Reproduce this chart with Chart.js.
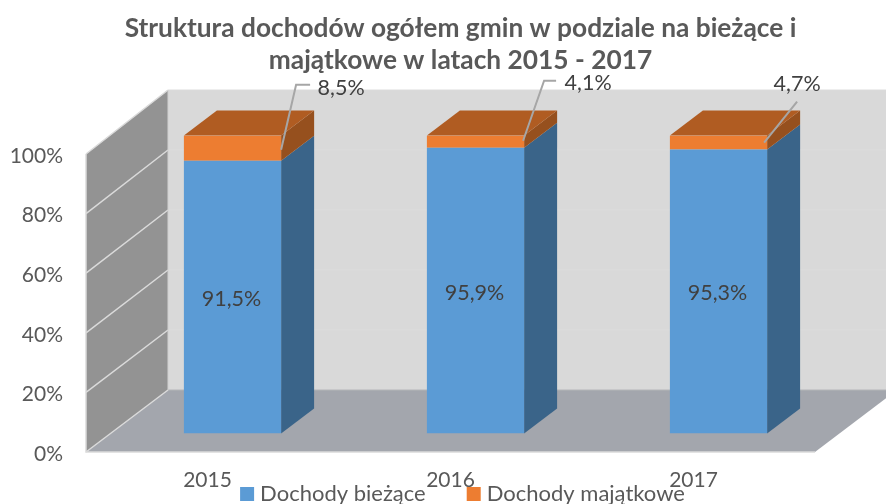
<!DOCTYPE html>
<html lang="pl"><head><meta charset="utf-8">
<style>html,body{margin:0;padding:0;background:#fff}canvas{display:block}</style>
<script src="https://cdn.jsdelivr.net/npm/chart.js@4"></script>
</head><body><canvas id="c" width="886" height="504"></canvas>
<script>
const categories = ['2015', '2016', '2017'];
const biezace = [91.5, 95.9, 95.3];
const majatkowe = [8.5, 4.1, 4.7];
const seriesNames = ['Dochody bieżące', 'Dochody majątkowe'];
const titleLines = ['Struktura dochodów ogółem gmin w podziale na bieżące i', 'majątkowe w latach 2015 - 2017'];
const yTicks = [0, 20, 40, 60, 80, 100];

// presentation only
const wallDX = 82, wallTop = 90, wallBottom = 390;
const sceneLift = -2;
const barShift = {x: 25, y: -20.5};
const barDepth = {x: 33, y: -25};
const leaders = [
  {pts: [[0,-11],[15,-76],[29,-76]], label: [60,-73]},
  {pts: [[-1,-7],[20,-67],[32,-67]], label: [64,-65]},
  {pts: [[-3,-7],[30,-48]], label: [30,-65]}
];
const pct = v => String(v).replace('.', ',') + '%';

function poly(ctx, pts, fill) {
  ctx.beginPath();
  pts.forEach((p, i) => i ? ctx.lineTo(p[0], p[1]) : ctx.moveTo(p[0], p[1]));
  ctx.closePath(); ctx.fillStyle = fill; ctx.fill();
}
function seg(ctx, pts, color, w) {
  ctx.beginPath();
  pts.forEach((p, i) => i ? ctx.lineTo(p[0], p[1]) : ctx.moveTo(p[0], p[1]));
  ctx.strokeStyle = color; ctx.lineWidth = w; ctx.stroke();
}

const scene = {
  id: 'scene',
  afterLayout(chart) {
    chart.titleBlock.left += 53; chart.titleBlock.right += 53;
    const lg = chart.legend;
    lg.left += 57.5; lg.right += 57.5;
    lg.top = 483 - lg.options.labels.padding;
    chart.scales.x.bottom = 504;
  },
  beforeDatasetsDraw(chart) {
    const {ctx, chartArea: ca, scales: {y}} = chart;
    const a = {left: ca.left, right: ca.right, top: ca.top + sceneLift, bottom: ca.bottom + sceneLift};
    const py = t => y.getPixelForValue(t) + sceneLift;
    const backY = p => wallBottom - (a.bottom - p) * (wallBottom - wallTop) / (a.bottom - a.top);
    const bx = a.left + wallDX;
    ctx.save();
    ctx.fillStyle = '#d9d9d9';
    ctx.fillRect(bx, wallTop, 886 - bx, wallBottom - wallTop);
    yTicks.slice(1).forEach(t => seg(ctx, [[bx, backY(py(t))], [886, backY(py(t))]], '#dcdcdc', 1));
    poly(ctx, [[a.left, a.top], [bx, wallTop], [bx, wallBottom], [a.left, a.bottom]], '#939393');
    poly(ctx, [[a.left, a.bottom], [bx, wallBottom], [a.right + wallDX, wallBottom], [a.right, a.bottom]], '#a3a6ad');
    seg(ctx, [[bx, wallBottom], [886, wallBottom]], '#b4b5b8', 1);
    yTicks.forEach(t => {
      const p = py(t);
      seg(ctx, [[a.left, p], [bx, backY(p)]], '#dadada', 1.5);
    });
    seg(ctx, [[a.left, a.top], [a.left, a.bottom], [a.right, a.bottom]], '#dadada', 1.5);
    seg(ctx, [[bx, wallTop], [bx, wallBottom]], '#d0d0d0', 1);
    // extruded faces, taken from the library's bar elements
    ctx.translate(barShift.x, barShift.y);
    const m0 = chart.getDatasetMeta(0).data, m1 = chart.getDatasetMeta(1).data;
    const dx = barDepth.x, dy = barDepth.y;
    m0.forEach((b, i) => {
      const o = m1[i], r = b.x + b.width / 2, l = b.x - b.width / 2;
      poly(ctx, [[r, b.base], [r + dx, b.base + dy], [r + dx, b.y + dy], [r, b.y]], '#3a6489');
      poly(ctx, [[r, b.y], [r + dx, b.y + dy], [r + dx, o.y + dy], [r, o.y]], '#96501e');
      poly(ctx, [[l, o.y], [l + dx, o.y + dy], [r + dx, o.y + dy], [r, o.y]], '#b05c22');
    });
    ctx.restore();
    ctx.save();
    ctx.translate(barShift.x, barShift.y);
  },
  afterDatasetsDraw(chart) {
    const {ctx} = chart;
    ctx.restore();
    ctx.save();
    ctx.translate(barShift.x, barShift.y);
    ctx.font = '21.5px Lato';
    ctx.fillStyle = '#404040';
    ctx.textAlign = 'center';
    ctx.textBaseline = 'middle';
    chart.getDatasetMeta(0).data.forEach((b, i) => {
      ctx.fillText(pct(biezace[i]), b.x - 1, (b.y + b.base) / 2 + 2);
    });
    chart.getDatasetMeta(1).data.forEach((b, i) => {
      const r = b.x + b.width / 2, L = leaders[i];
      seg(ctx, L.pts.map(p => [r + p[0], b.base + p[1]]), '#a6a6a6', 2);
      ctx.fillStyle = '#404040';
      ctx.fillText(pct(majatkowe[i]), r + L.label[0], b.base + L.label[1]);
    });
    ctx.restore();
  }
};

new Chart(document.getElementById('c'), {
  type: 'bar',
  data: {
    labels: categories,
    datasets: [
      {label: seriesNames[0], data: biezace, backgroundColor: '#5b9bd5', stack: 's'},
      {label: seriesNames[1], data: majatkowe, backgroundColor: '#ed7d31', stack: 's'}
    ]
  },
  options: {
    responsive: false,
    animation: false,
    layout: {autoPadding: false, padding: {left: 0, right: 71, top: 0, bottom: 0}},
    font: {family: 'Lato'},
    datasets: {bar: {categoryPercentage: 1, barPercentage: 0.4}},
    scales: {
      x: {
        stacked: true,
        grid: {display: false, drawTicks: false},
        border: {display: false},
        ticks: {color: '#595959', font: {family: 'Lato', size: 21}, padding: 14, maxRotation: 0},
        afterFit(s) { s.height = 20; }
      },
      y: {
        stacked: true, min: 0, max: 100,
        grid: {display: false, drawTicks: false},
        border: {display: false},
        afterBuildTicks(s) { s.ticks = yTicks.map(v => ({value: v})); },
        ticks: {color: '#595959', font: {family: 'Lato', size: 21}, padding: 23, callback: v => v + '%'},
        afterFit(s) { s.width = 86; }
      }
    },
    plugins: {
      tooltip: {enabled: false},
      title: {
        display: true, text: titleLines, color: '#595959',
        font: {family: 'Lato', size: 26.3, weight: 'bold', lineHeight: 1.217},
        padding: {top: 13, bottom: 79}
      },
      legend: {
        position: 'bottom', maxHeight: 30,
        labels: {
          color: '#595959', font: {family: 'Lato', size: 22},
          usePointStyle: true, pointStyle: 'rect', boxWidth: 4, boxHeight: 14,
          padding: 46
        }
      }
    }
  },
  plugins: [scene]
});
</script></body></html>
